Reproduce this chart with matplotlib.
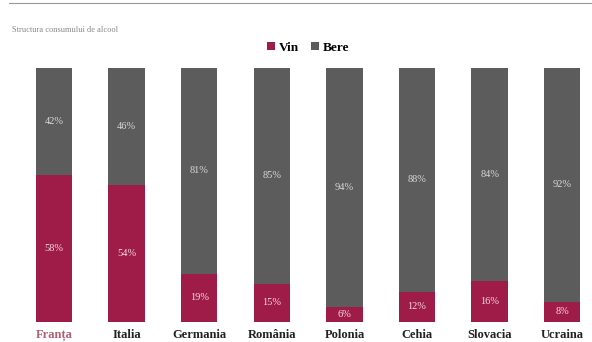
import matplotlib
matplotlib.use('Agg')
import matplotlib.pyplot as plt

# Date (procente)
tari = ['Franța', 'Italia', 'Germania', 'România', 'Polonia', 'Cehia', 'Slovacia', 'Ucraina']
vin = [58, 54, 19, 15, 6, 12, 16, 8]
bere = [42, 46, 81, 85, 94, 88, 84, 92]

c_vin = '#A01C48'
c_bere = '#5C5C5C'

plt.rcParams['font.family'] = ['Liberation Serif', 'DejaVu Serif']

fig = plt.figure(figsize=(5.92, 3.42), dpi=100)
ax = fig.add_axes([0, 0.0585, 1, 0.7427])

x = range(len(tari))
ax.bar(x, vin, width=0.5, color=c_vin, label='Vin')
ax.bar(x, bere, width=0.5, bottom=vin, color=c_bere, label='Bere')

for i in x:
    ax.text(i, vin[i] / 2, '%d%%' % vin[i], ha='center', va='center',
            color='#F2DCE3', fontsize=7.5)
    ax.text(i, vin[i] + bere[i] / 2, '%d%%' % bere[i], ha='center', va='center',
            color='#D8D8D8', fontsize=7.5)

ax.set_xlim(-0.744, 7.41)
ax.set_ylim(0, 100)
ax.set_xticks(list(x))
ax.set_xticklabels(tari, fontsize=9, fontweight='bold', color='#222222')
ax.get_xticklabels()[0].set_color('#B06070')
ax.tick_params(axis='x', length=0, pad=5)
ax.set_yticks([])
for s in ax.spines.values():
    s.set_visible(False)

fig.legend(loc='center', bbox_to_anchor=(0.52, 0.86), ncol=2, frameon=False,
           prop={'size': 9.5, 'weight': 'bold'}, handlelength=0.6,
           handleheight=0.6, handletextpad=0.3, columnspacing=0.9)

# titlu mic, aproape ilizibil in original
fig.text(0.02, 0.905, 'Structura consumului de alcool', fontsize=6, color='#888888')
fig.add_artist(plt.Line2D([0.015, 1], [0.99, 0.99], color='#999999', lw=0.8))

plt.savefig('out.png', dpi=100)
